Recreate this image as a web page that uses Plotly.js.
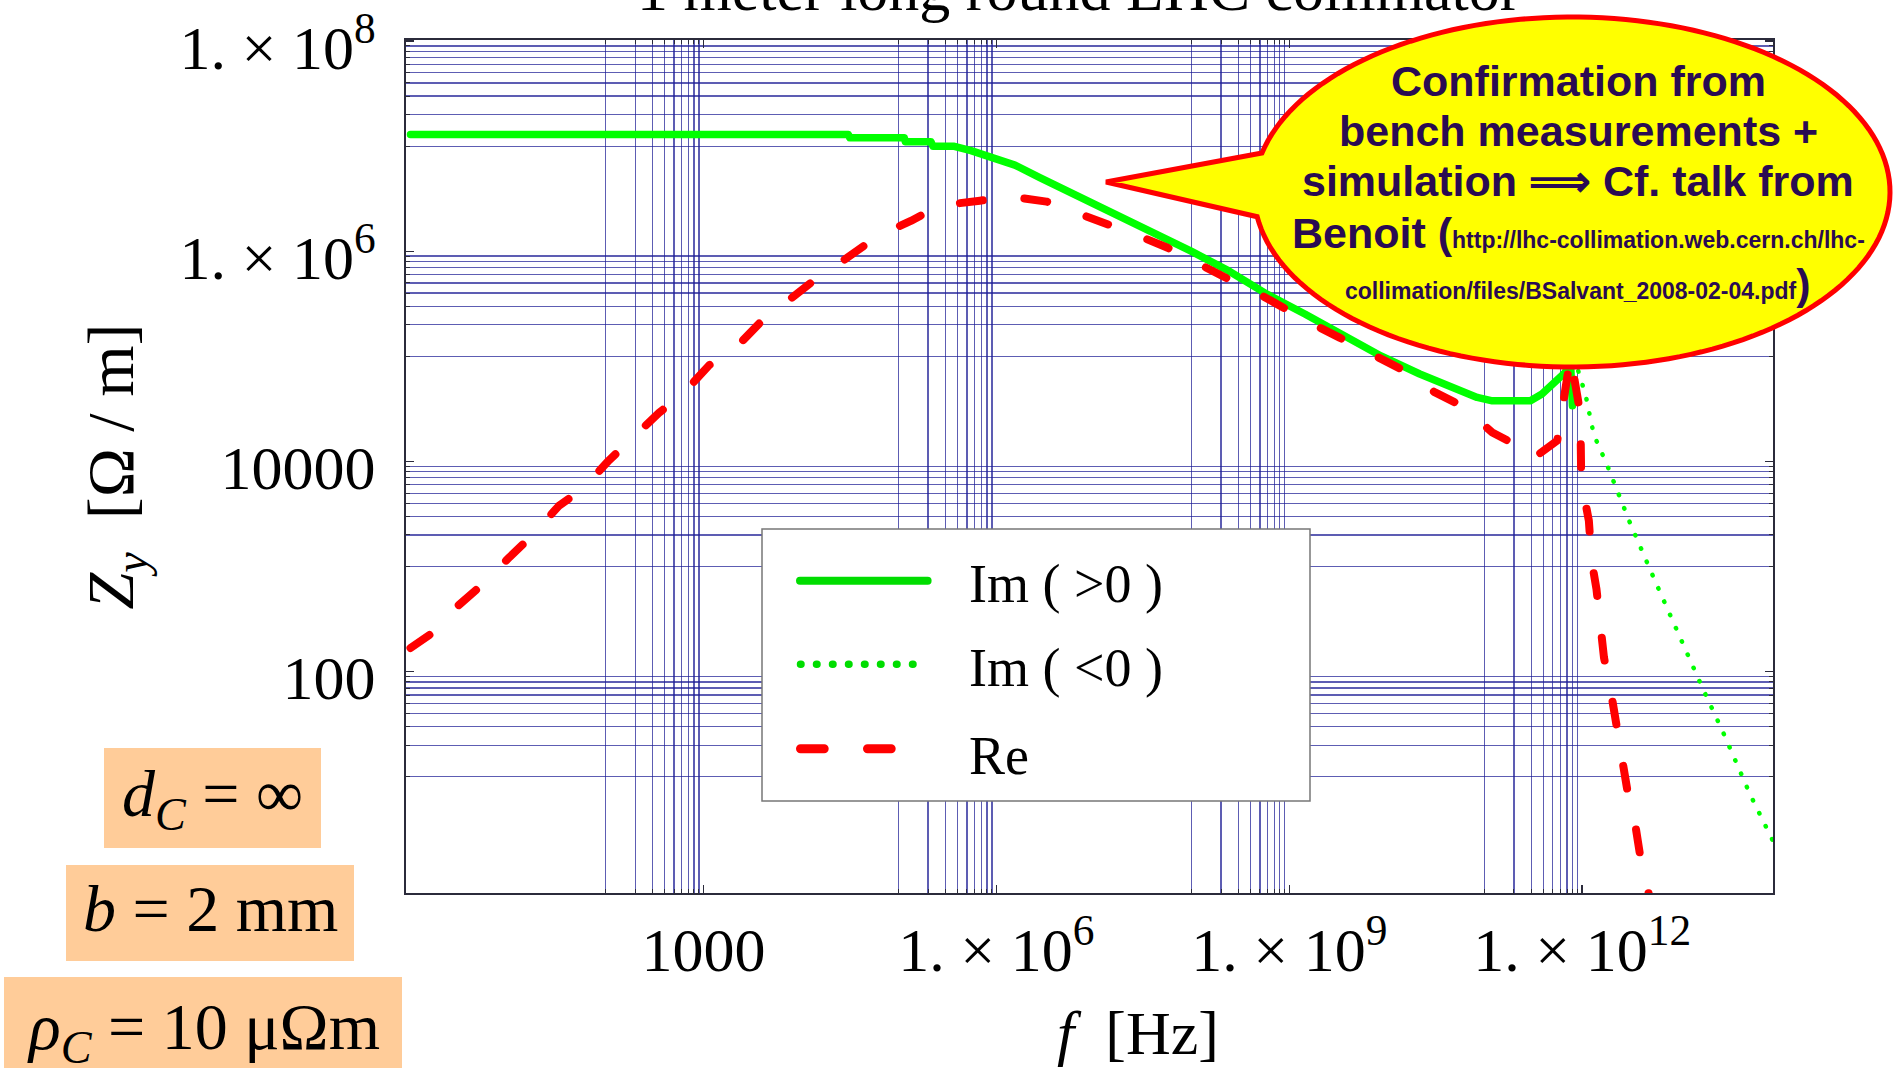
<!DOCTYPE html>
<html><head><meta charset="utf-8">
<script src="https://cdn.plot.ly/plotly-3.0.1.min.js"></script>
<style>html,body{margin:0;padding:0;background:#fff;overflow:hidden}#chart{width:1899px;height:1068px}</style>
</head><body><div id="chart"></div>
<script>
// ---------------- data ----------------
const imPosFreq = [1, 3.05e4, 3.16e4, 1.14e5, 1.17e5, 2.14e5, 2.24e5, 3.63e5, 5.5e5, 8.32e5, 1.55e6, 2.82e6, 6.3e6, 1.61e7, 3.95e7, 9.75e7, 2.4e8, 5.9e8, 1.46e9, 3.57e9, 8.7e9, 2.17e10, 5.33e10, 8.4e10, 1.2e11, 2.95e11, 3.87e11, 5.07e11, 6.65e11, 7.59e11, 7.94e11];
const imPosZ    = [1.29e7, 1.29e7, 1.2e7, 1.2e7, 1.1e7, 1.1e7, 1.0e7, 1.0e7, 9.06e6, 8.0e6, 6.6e6, 5.0e6, 3.47e6, 2.33e6, 1.56e6, 1.01e6, 6.5e5, 3.91e5, 2.52e5, 1.63e5, 1.01e5, 6.8e4, 4.71e4, 4.07e4, 3.78e4, 3.78e4, 4.39e4, 5.46e4, 7.0e4, 8.9e4, 3.39e4];

const imNegFreq = [9.12e11, 1.086e12, 1.2e12, 1.32e12, 1.77e12, 3.11e12, 5.48e12, 9.68e12, 1.69e13, 2.72e13, 5.25e13, 8.36e13, 1e14];
const imNegZ    = [7.24e4, 4.26e4, 2.69e4, 1.78e4, 9.6e3, 2.56e3, 757, 224, 71.4, 27.6, 6.78, 2.81, 2.0];

const reFreq = [1, 1.79, 3.09, 5.51, 10.35, 17.1, 32.9, 58.6, 107.9, 176.6, 350, 611, 1148, 2046, 3926, 7000, 1.507e4, 2.6e4, 6.04e4, 1.33e5, 2.63e5, 6.78e5, 1.41e6, 3.27e6, 6.49e6, 1.34e7, 2.88e7, 5.68e7, 1.16e8, 2.4e8, 4.92e8, 8.45e8, 1.9e9, 3.27e9, 8.05e9, 1.51e10, 3.11e10, 5.85e10, 1.2e11, 2.36e11, 3.09e11, 5.55e11, 7.59e11, 9.51e11, 9.66e11, 9.77e11, 1.17e12, 1.25e12, 1.4e12, 1.53e12, 1.67e12, 2.0e12, 2.23e12, 2.62e12, 2.92e12, 3.53e12, 3.94e12, 4.71e12, 5.62e12];
const reZ    = [168, 244, 427, 682, 1233, 1928, 3767, 5559, 1.026e4, 1.57e4, 2.9e4, 4.38e4, 8.26e4, 1.156e5, 2.16e5, 3.27e5, 5.7e5, 7.96e5, 1.39e6, 1.945e6, 2.72e6, 3.03e6, 3.32e6, 2.97e6, 2.35e6, 1.87e6, 1.4e6, 1.08e6, 7.53e5, 5.42e5, 3.91e5, 2.91e5, 1.95e5, 1.51e5, 9.77e4, 7.29e4, 4.54e4, 3.39e4, 1.89e4, 1.36e4, 1.06e4, 1.58e4, 1.0e5, 2.95e4, 1.55e4, 6.6e3, 2.73e3, 1.13e3, 611, 263, 137, 58.9, 30.7, 13.2, 7.16, 3.32, 1.73, 0.836, 0.4];

const seriesNames = ['Im\u00a0(\u00a0&gt;0\u00a0)', 'Im\u00a0(\u00a0&lt;0\u00a0)', 'Re'];

const xTickVals = [1e3, 1e6, 1e9, 1e12];
const xTickText = ['1000', '1.\u00a0×\u00a010<sup>6</sup>', '1.\u00a0×\u00a010<sup>9</sup>', '1.\u00a0×\u00a010<sup>12</sup>'];
const yTickVals = [1e2, 1e4, 1e6, 1e8];
const yTickText = ['100', '10000', '1.\u00a0×\u00a010<sup>6</sup>', '1.\u00a0×\u00a010<sup>8</sup>'];
const xGridDecades = [1e2, 1e5, 1e8, 1e11];
const yGridDecades = [1e1, 1e3, 1e5, 1e7];
const gridMultipliers = [1, 2, 3, 4, 5, 6, 7, 8, 9];

const titleText = '1 meter long round LHC collimator';
const xTitleText = '<i>f</i>\u00a0\u00a0[Hz]';
const yTitleText = '<i>Z</i><sub><i>y</i></sub>\u00a0\u00a0[Ω / m]';
const paramLabels = ['<i>d</i><sub><i>C</i></sub>\u00a0=\u00a0∞', '<i>b</i>\u00a0=\u00a02 mm', '<i>ρ</i><sub><i>C</i></sub>\u00a0=\u00a010 μΩm'];
const calloutLines = [
  'Confirmation from',
  'bench measurements +',
  'simulation ⟹ Cf. talk from',
  'Benoit (<span style="font-size:23px">http://lhc-collimation.web.cern.ch/lhc-</span>',
  '<span style="font-size:23px">collimation/files/BSalvant_2008-02-04.pdf</span>)'
];

// ---------------- layout helpers ----------------
const W = 1899, H = 1068;
const M = {l: 406, r: 126, t: 40, b: 175};
const PW = W - M.l - M.r, PH = H - M.t - M.b;
const px = x => (x - M.l) / PW;
const py = y => (H - M.b - y) / PH;

const gridVals = decs => decs.flatMap(d => gridMultipliers.map(m => m * d));

const GREEN = '#00ff00', GREEN_LEG = '#00dd00', RED = '#ff0000';
const AXC = '#2b2b3b';
const GRIDC = 'rgba(30,30,150,0.72)';
const SERIF = 'Liberation Serif, Times New Roman, serif';
const SANS = 'Liberation Sans, Arial, sans-serif';

const traces = [
  {x: imPosFreq, y: imPosZ, mode: 'lines', name: seriesNames[0], line: {color: GREEN, width: 7.5}, showlegend: false},
  {x: imNegFreq, y: imNegZ, mode: 'lines', name: seriesNames[1], line: {color: GREEN, width: 4.5, dash: '0.5px,14px'}, showlegend: false},
  {x: reFreq, y: reZ, mode: 'lines', name: seriesNames[2], line: {color: RED, width: 8, dash: '23px,42px'}, showlegend: false}
];

// callout (ellipse + pointer) in pixel space -> paper
const cx = 1572, cy = 192, rx = 318, ry = 175;
const t1 = 3.366, t2 = 2 * Math.PI + 3.0;
let cpath = '';
const steps = 160;
for (let i = 0; i <= steps; i++) {
  const t = t1 + (t2 - t1) * i / steps;
  const X = cx + rx * Math.cos(t), Y = cy + ry * Math.sin(t);
  cpath += (i === 0 ? 'M' : 'L') + px(X).toFixed(5) + ',' + py(Y).toFixed(5);
}
cpath += 'L' + px(1106).toFixed(5) + ',' + py(182).toFixed(5) + 'Z';

const shapes = [
  {type: 'rect', xref: 'paper', yref: 'paper', x0: px(762), x1: px(1310), y0: py(801), y1: py(529), fillcolor: '#ffffff', line: {color: '#777777', width: 1.5}, layer: 'above'},
  {type: 'line', xref: 'paper', yref: 'paper', x0: px(800), x1: px(927.6), y0: py(580.7), y1: py(580.7), line: {color: GREEN_LEG, width: 8}, layer: 'above'},
  {type: 'line', xref: 'paper', yref: 'paper', x0: px(800.5), x1: px(928.5), y0: py(664.3), y1: py(664.3), line: {color: GREEN_LEG, width: 7.5, dash: '0.5px,15.5px'}, layer: 'above'},
  {type: 'line', xref: 'paper', yref: 'paper', x0: px(800.5), x1: px(892.5), y0: py(748.7), y1: py(748.7), line: {color: RED, width: 9, dash: '23.7px,43.3px'}, layer: 'above'},
  {type: 'rect', xref: 'paper', yref: 'paper', x0: px(104), x1: px(321), y0: py(848), y1: py(748), fillcolor: '#FFCC99', line: {width: 0}, layer: 'above'},
  {type: 'rect', xref: 'paper', yref: 'paper', x0: px(66), x1: px(354), y0: py(961), y1: py(865), fillcolor: '#FFCC99', line: {width: 0}, layer: 'above'},
  {type: 'rect', xref: 'paper', yref: 'paper', x0: px(4), x1: px(402), y0: py(1075), y1: py(977), fillcolor: '#FFCC99', line: {width: 0}, layer: 'above'},
  {type: 'path', xref: 'paper', yref: 'paper', path: cpath, fillcolor: '#ffff00', line: {color: RED, width: 5}, layer: 'above'}
];

const ann = (x, y, text, font, xanchor, yanchor) => ({
  xref: 'paper', yref: 'paper', x: px(x), y: py(y), text, showarrow: false,
  xanchor, yanchor, font, borderpad: 1
});

const serifFont = s => ({family: SERIF, size: s, color: '#000000'});
const calloutFont = {family: SANS, size: 43, color: '#2a0b52', weight: 'bold'};

const annotations = [
  ann(1079, 9 - 0.891 * 62 - 1, titleText, serifFont(62), 'center', 'top'),
  // x-axis title (centred right of the plot centre, as in the original)
  ann(1138, 1053 - 0.891 * 62 - 1, xTitleText, serifFont(62), 'center', 'top'),
  ann(966.5, 600.7 - 0.891 * 54 - 1, seriesNames[0], serifFont(54), 'left', 'top'),
  ann(966.5, 685.0 - 0.891 * 54 - 1, seriesNames[1], serifFont(54), 'left', 'top'),
  ann(966.5, 772.7 - 0.891 * 54 - 1, seriesNames[2], serifFont(54), 'left', 'top'),
  ann(212.5, 815 - 0.891 * 66 - 1, paramLabels[0], serifFont(66), 'center', 'top'),
  ann(210, 930 - 0.891 * 66 - 1, paramLabels[1], serifFont(66), 'center', 'top'),
  ann(203, 1048 - 0.891 * 66 - 1, paramLabels[2], serifFont(66), 'center', 'top')
];
const calloutBaselines = [95, 145, 195, 246.7, 298];
calloutLines.forEach((t, i) => annotations.push(ann(1578, calloutBaselines[i] - 0.905 * 43 - 1, t, calloutFont, 'center', 'top')));

const axisCommon = {
  type: 'log', showgrid: false, zeroline: false,
  showline: true, linecolor: AXC, linewidth: 2, mirror: 'allticks',
  ticks: 'inside', ticklen: 8, tickwidth: 1.5, tickcolor: AXC,
  tickmode: 'array', tickfont: serifFont(62),
  ticklabeloverflow: 'allow',
  fixedrange: true
};

const layout = {
  width: W, height: H,
  margin: M,
  paper_bgcolor: '#ffffff', plot_bgcolor: '#ffffff',
  font: {family: SERIF, color: '#000000'},
  showlegend: false,
  xaxis: Object.assign({}, axisCommon, {
    range: [-0.046, 13.954],
    tickvals: xTickVals, ticktext: xTickText,
    ticklabelstandoff: 2,
    minor: {tickmode: 'array', tickvals: gridVals(xGridDecades), ticks: 'inside', ticklen: 4, tickcolor: AXC, tickwidth: 1, showgrid: true, gridcolor: GRIDC, gridwidth: 1.3}
  }),
  yaxis: Object.assign({}, axisCommon, {
    range: [-0.105, 8.01],
    tickvals: yTickVals, ticktext: yTickText,
    ticklabelstandoff: 16,
    ticklabelshift: 6,
    minor: {tickmode: 'array', tickvals: gridVals(yGridDecades), ticks: 'inside', ticklen: 4, tickcolor: AXC, tickwidth: 1, showgrid: true, gridcolor: GRIDC, gridwidth: 1.3},
    title: {text: yTitleText, font: serifFont(66), standoff: 24}
  }),
  shapes, annotations
};

Plotly.newPlot('chart', traces, layout, {staticPlot: true, displayModeBar: false}).then(gd => {
  gd.querySelectorAll('.scatterlayer path.js-line').forEach(p => { p.style.strokeLinecap = 'round'; p.style.strokeLinejoin = 'round'; });
  [1, 2, 3].forEach(i => gd.querySelectorAll('.shapelayer path[data-index="' + i + '"]').forEach(p => { p.style.strokeLinecap = 'round'; }));
});
</script>
</body></html>
